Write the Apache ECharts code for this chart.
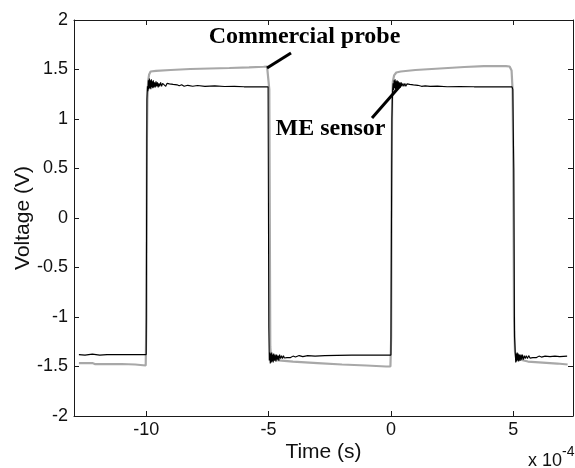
<!DOCTYPE html>
<html>
<head>
<meta charset="utf-8">
<script src="https://cdn.jsdelivr.net/npm/echarts@6/dist/echarts.min.js"></script>
<style>
html,body{margin:0;padding:0;background:#fff;}
#chart{width:575px;height:468px;}
</style>
</head>
<body>
<div id="chart"></div>
<script>
// Time in units of 1e-4 s, voltage in V
const xTickValues = [-10, -5, 0, 5];
const yTickInterval = 0.5;

const probeData = [
  [-12.75,-1.465],[-12.2,-1.465],[-12.1,-1.475],[-11.0,-1.475],[-10.45,-1.48],[-10.4,-1.49],[-10.02,-1.49],
  [-9.99,-1.0],[-9.97,0.8],[-9.95,1.2],[-9.92,1.38],[-9.88,1.45],[-9.82,1.48],[-9.6,1.487],[-9.0,1.495],
  [-8.2,1.505],[-7.4,1.51],[-6.6,1.515],[-5.8,1.522],[-5.2,1.528],[-5.06,1.53],[-5.0,1.51],[-4.97,1.3],
  [-4.95,0.0],[-4.93,-1.3],[-4.90,-1.40],[-4.85,-1.43],[-4.7,-1.435],[-4.0,-1.45],[-3.0,-1.465],[-2.0,-1.48],
  [-1.0,-1.49],[-0.2,-1.5],[-0.02,-1.5],[0.01,-1.2],[0.03,0.5],[0.05,1.2],[0.08,1.38],[0.13,1.44],[0.22,1.47],
  [0.4,1.48],[1.0,1.495],[2.0,1.51],[3.0,1.525],[3.8,1.535],[4.7,1.535],[4.85,1.53],[4.93,1.49],[4.97,1.3],
  [5.0,0.5],[5.03,-1.0],[5.07,-1.35],[5.12,-1.42],[5.2,-1.44],[5.6,-1.45],[6.2,-1.46],[6.8,-1.47],[7.22,-1.48]
];

const sensorData = [
  [-12.75,-1.38],[-12.5,-1.385],[-12.2,-1.375],[-11.9,-1.385],[-11.6,-1.38],[-11.2,-1.38],[-10.5,-1.38],[-10.0,-1.38],
  [-9.97,1.2],[-9.95,1.33],[-9.93,1.28],[-9.91,1.39],[-9.89,1.30],[-9.87,1.41],[-9.85,1.31],[-9.83,1.39],[-9.81,1.30],
  [-9.79,1.40],[-9.77,1.32],[-9.75,1.38],[-9.73,1.31],[-9.71,1.39],[-9.69,1.32],[-9.66,1.37],[-9.63,1.32],[-9.60,1.38],
  [-9.57,1.33],[-9.54,1.37],[-9.51,1.32],[-9.48,1.36],[-9.45,1.33],[-9.41,1.37],[-9.37,1.33],[-9.33,1.36],[-9.29,1.34],
  [-9.25,1.36],[-9.20,1.33],[-9.15,1.36],[-9.10,1.34],[-9.05,1.355],[-8.98,1.335],[-8.9,1.35],[-8.82,1.335],[-8.74,1.345],
  [-8.65,1.335],[-8.55,1.345],[-8.45,1.33],[-8.3,1.34],[-8.1,1.33],[-7.9,1.338],[-7.6,1.33],[-7.2,1.335],[-6.8,1.328],
  [-6.4,1.33],[-6.0,1.325],[-5.5,1.325],[-5.02,1.325],
  [-4.99,-1.1],[-4.97,-1.44],[-4.95,-1.36],[-4.93,-1.47],[-4.91,-1.37],[-4.89,-1.46],[-4.87,-1.36],[-4.85,-1.45],
  [-4.83,-1.38],[-4.81,-1.46],[-4.79,-1.37],[-4.76,-1.44],[-4.73,-1.38],[-4.70,-1.45],[-4.67,-1.38],[-4.64,-1.43],
  [-4.61,-1.39],[-4.58,-1.44],[-4.55,-1.38],[-4.51,-1.42],[-4.47,-1.39],[-4.43,-1.42],[-4.39,-1.39],[-4.35,-1.415],
  [-4.30,-1.395],[-4.25,-1.41],[-4.18,-1.39],[-4.1,-1.41],[-4.0,-1.395],[-3.9,-1.405],[-3.75,-1.39],[-3.6,-1.4],
  [-3.4,-1.39],[-3.1,-1.395],[-2.7,-1.39],[-2.2,-1.388],[-1.6,-1.385],[-1.0,-1.385],[-0.4,-1.385],[0.0,-1.385],
  [0.04,1.0],[0.07,1.30],[0.09,1.36],[0.11,1.29],[0.13,1.39],[0.15,1.31],[0.17,1.40],[0.19,1.30],[0.21,1.38],
  [0.23,1.31],[0.25,1.39],[0.27,1.32],[0.30,1.38],[0.33,1.32],[0.36,1.37],[0.39,1.32],[0.42,1.37],[0.45,1.33],
  [0.49,1.36],[0.53,1.33],[0.57,1.36],[0.61,1.33],[0.66,1.355],[0.71,1.335],[0.77,1.35],[0.84,1.335],[0.92,1.345],
  [1.0,1.33],[1.1,1.34],[1.25,1.33],[1.4,1.335],[1.6,1.33],[1.9,1.332],[2.3,1.325],[2.8,1.328],[3.4,1.325],
  [4.0,1.325],[4.6,1.325],[4.95,1.325],[4.98,1.30],
  [5.02,0.5],[5.05,-1.2],[5.08,-1.36],[5.10,-1.46],[5.12,-1.37],[5.14,-1.45],[5.16,-1.36],[5.18,-1.44],[5.20,-1.37],
  [5.22,-1.45],[5.25,-1.38],[5.28,-1.44],[5.31,-1.38],[5.34,-1.43],[5.37,-1.38],[5.41,-1.43],[5.45,-1.39],[5.49,-1.42],
  [5.53,-1.39],[5.58,-1.42],[5.63,-1.39],[5.68,-1.415],[5.74,-1.395],[5.8,-1.41],[5.87,-1.395],[5.95,-1.41],
  [6.05,-1.395],[6.15,-1.405],[6.3,-1.395],[6.5,-1.4],[6.7,-1.395],[6.9,-1.4],[7.2,-1.395]
];

const FONT = "'Liberation Sans', Arial, sans-serif";
const SERIF = "'Liberation Serif', 'Times New Roman', serif";
const AXIS_COLOR = '#1a1a1a';
const xMin = -12.95, xMax = 7.44, yMin = -2, yMax = 2;

const chart = echarts.init(document.getElementById('chart'));

function xAx(pos, show) {
  return {
    type: 'value', position: pos, min: xMin, max: xMax,
    name: show ? 'Time (s)' : '', nameLocation: 'middle', nameGap: 26, nameMoveOverlap: false,
    nameTextStyle: {fontFamily: FONT, fontSize: 21, color: '#111'},
    axisLine: {show: true, onZero: false, lineStyle: {color: AXIS_COLOR, width: 1}},
    axisTick: {show: true, inside: true, length: 5, customValues: xTickValues, lineStyle: {color: AXIS_COLOR}},
    axisLabel: {show: show, customValues: xTickValues, fontFamily: FONT, fontSize: 18, color: '#111', margin: 5},
    splitLine: {show: false}
  };
}
function yAx(pos, show) {
  return {
    type: 'value', position: pos, min: yMin, max: yMax, interval: yTickInterval,
    name: show ? 'Voltage (V)' : '', nameLocation: 'middle', nameGap: 40, nameMoveOverlap: false,
    nameTextStyle: {fontFamily: FONT, fontSize: 21, color: '#111'},
    axisLine: {show: true, onZero: false, lineStyle: {color: AXIS_COLOR, width: 1}},
    axisTick: {show: true, inside: true, length: 5, lineStyle: {color: AXIS_COLOR}},
    axisLabel: {show: show, fontFamily: FONT, fontSize: 18, color: '#111', margin: 6},
    splitLine: {show: false}
  };
}

chart.setOption({
  animation: false,
  backgroundColor: '#fff',
  grid: {left: 74, right: 2, top: 20, bottom: 52, containLabel: false, outerBoundsMode: 'none'},
  xAxis: [xAx('bottom', true), xAx('top', false)],
  yAxis: [yAx('left', true), yAx('right', false)],
  series: [
    {
      name: 'Commercial probe', type: 'line', data: probeData, showSymbol: false, symbol: 'none',
      lineStyle: {color: '#a8a8a8', width: 2.2}, z: 2
    },
    {
      name: 'ME sensor', type: 'line', data: sensorData, showSymbol: false, symbol: 'none',
      lineStyle: {color: '#000', width: 1.1}, z: 3
    }
  ],
  graphic: [
    {type: 'text', x: 304.5, y: 37, z: 10,
      style: {text: 'Commercial probe', font: 'bold 24px ' + SERIF, fill: '#000', align: 'center', verticalAlign: 'middle'}},
    {type: 'line', z: 10, shape: {x1: 291, y1: 53, x2: 267, y2: 68}, style: {stroke: '#000', lineWidth: 3}},
    {type: 'text', x: 330.5, y: 129, z: 10,
      style: {text: 'ME sensor', font: 'bold 24px ' + SERIF, fill: '#000', align: 'center', verticalAlign: 'middle'}},
    {type: 'line', z: 10, shape: {x1: 372, y1: 118, x2: 400, y2: 86}, style: {stroke: '#000', lineWidth: 3}},
    {type: 'text', x: 528, y: 461, z: 10,
      style: {text: 'x 10', font: '18px ' + FONT, fill: '#111', align: 'left', verticalAlign: 'middle'}},
    {type: 'text', x: 562, y: 452, z: 10,
      style: {text: '-4', font: '14px ' + FONT, fill: '#111', align: 'left', verticalAlign: 'middle'}}
  ]
});
</script>
</body>
</html>
